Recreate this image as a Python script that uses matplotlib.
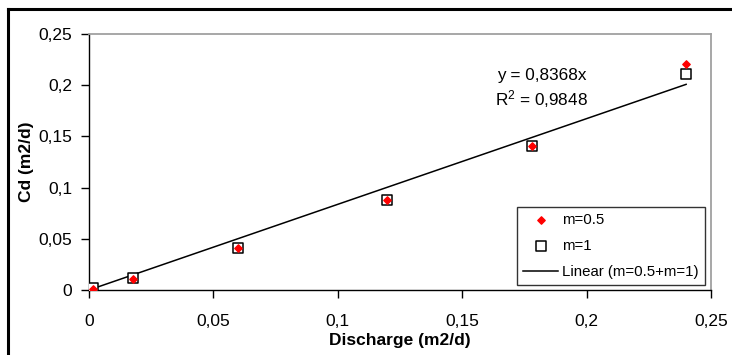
import matplotlib.pyplot as plt
from matplotlib.lines import Line2D
from matplotlib.ticker import FuncFormatter

plt.rcParams['font.family'] = ['Liberation Sans', 'DejaVu Sans']

discharge = [0.0016, 0.0177, 0.060, 0.1198, 0.178, 0.240]
cd_m05 = [0.001, 0.0105, 0.041, 0.088, 0.141, 0.221]
cd_m1 = [0.002, 0.0115, 0.0415, 0.088, 0.141, 0.211]
slope = 0.8368
r2 = 0.9848

fig = plt.figure(figsize=(7.32, 3.55), dpi=100)
# outer chart frame (only top/left edges visible in the crop)
fig.add_artist(Line2D([8 / 732, 1.0], [1 - 9 / 355, 1 - 9 / 355], color="black", lw=2.2))
fig.add_artist(Line2D([8 / 732, 8 / 732], [0.0, 1 - 9 / 355], color="black", lw=2.2))

ax = fig.add_axes([89 / 732, 65 / 355, 622 / 732, 256 / 355])

ax.scatter(discharge, cd_m1, marker="s", s=55, facecolors="white",
           edgecolors="black", linewidths=1.1, zorder=3, label="m=1")
ax.scatter(discharge, cd_m05, marker="D", s=14, color="red", zorder=4,
           label="m=0.5")
xs = [discharge[0], discharge[-1]]
ax.plot(xs, [slope * x for x in xs], color="black", lw=1.1, zorder=2,
        label="Linear (m=0.5+m=1)")

ax.set_xlim(0, 0.25)
ax.set_ylim(0, 0.25)
ticks = [0, 0.05, 0.1, 0.15, 0.2, 0.25]
ax.set_xticks(ticks)
ax.set_yticks(ticks)
fmt = FuncFormatter(lambda v, p: ("%g" % round(v, 3)).replace(".", ","))
ax.xaxis.set_major_formatter(fmt)
ax.yaxis.set_major_formatter(fmt)
ax.tick_params(direction="out", length=6, width=1, labelsize=12.5, pad=6)
ax.tick_params(axis="x", pad=11)

for s in ["top", "right"]:
    ax.spines[s].set_color("#a0a0a0")
    ax.spines[s].set_linewidth(1.3)
for s in ["left", "bottom"]:
    ax.spines[s].set_color("black")
    ax.spines[s].set_linewidth(1.0)

ax.set_xlabel("Discharge (m2/d)", fontsize=12.5, fontweight="bold", labelpad=3)
ax.set_ylabel("Cd (m2/d)", fontsize=12.5, fontweight="bold", labelpad=3)

ax.text(0.182, 0.196, "y = 0,8368x\n$\\mathregular{R^2}$ = 0,9848", ha="center",
        va="center", fontsize=12.3, linespacing=1.3)

h, l = ax.get_legend_handles_labels()
order = [1, 0, 2]
leg = ax.legend([h[i] for i in order], [l[i] for i in order], loc="lower right",
                bbox_to_anchor=(0.9904, 0.0195), fontsize=10.8, frameon=True,
                fancybox=False, edgecolor="black", borderpad=0.4,
                labelspacing=0.8, handlelength=2.3, handletextpad=0.3,
                borderaxespad=0)
leg.get_frame().set_linewidth(1.0)

fig.savefig("out.png", dpi=100)
